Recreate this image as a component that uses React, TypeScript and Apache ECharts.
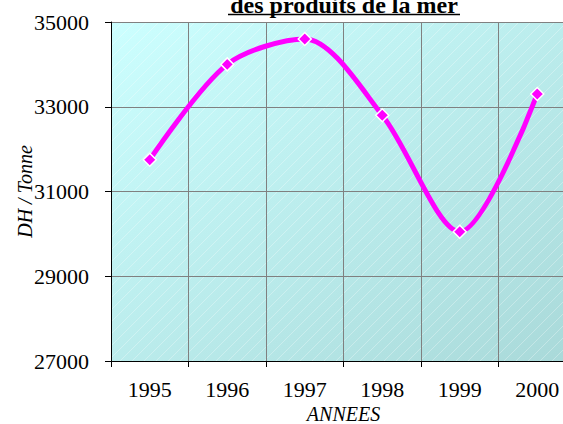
import React, { useEffect, useRef } from 'react';
import * as echarts from 'echarts';

const years: string[] = ['1995', '1996', '1997', '1998', '1999', '2000'];
const prices: number[] = [31750, 34000, 34600, 32800, 30050, 33300];
const yMin = 27000;
const yMax = 35000;
const yInterval = 2000;
const titleText = 'des produits de la mer';
const xName = 'ANNEES';
const yName = 'DH / Tonne';

const FONT = '"Liberation Serif", "Times New Roman", serif';

// plot rectangle (layout)
const L = 111;
const T = 22;
const R = 576;
const B = 361;

function hatchLines() {
  const els: any[] = [];
  const step = 12;
  for (let c = L + T; c <= R + B; c += step) {
    const x1 = Math.max(L, c - B);
    const x2 = Math.min(R, c - T);
    if (x2 <= x1) continue;
    els.push({
      type: 'line',
      silent: true,
      z: -9,
      shape: { x1, y1: c - x1, x2, y2: c - x2 },
      style: { stroke: 'rgba(255,255,255,0.3)', lineWidth: 1 },
    });
  }
  return els;
}

export default function App() {
  const ref = useRef<HTMLDivElement>(null);
  useEffect(() => {
    if (!ref.current) return;
    const chart = echarts.init(ref.current, undefined, { renderer: 'svg' });
    chart.setOption({
      animation: false,
      backgroundColor: '#ffffff',
      grid: {
        left: L,
        top: T,
        width: R - L,
        height: B - T,
        containLabel: false,
        outerBoundsMode: 'none',
      },
      graphic: [
        {
          type: 'rect',
          silent: true,
          z: -10,
          shape: { x: L, y: T, width: R - L, height: B - T },
          style: {
            fill: new echarts.graphic.LinearGradient(0, 0, 1, 1, [
              { offset: 0, color: '#CCFFFF' },
              { offset: 1, color: '#A9D9D9' },
            ]),
          },
        },
        ...hatchLines(),
        {
          type: 'text',
          x: 344,
          y: 5,
          style: {
            text: titleText,
            fontFamily: FONT,
            fontSize: 24,
            fontWeight: 'bold',
            fill: '#000',
            align: 'center',
            verticalAlign: 'middle',
          },
        },
        {
          type: 'line',
          shape: { x1: 228, y1: 14.5, x2: 460, y2: 14.5 },
          style: { stroke: '#000', lineWidth: 1.5 },
        },
      ],
      xAxis: {
        type: 'category',
        data: years,
        boundaryGap: true,
        name: xName,
        nameLocation: 'middle',
        nameGap: 43,
        nameMoveOverlap: false,
        nameTextStyle: { fontFamily: FONT, fontSize: 20, fontStyle: 'italic', color: '#000' },
        axisLine: { show: true, lineStyle: { color: '#000', width: 1 } },
        axisTick: { show: true, length: 6, lineStyle: { color: '#000' } },
        axisLabel: { fontFamily: FONT, fontSize: 22, color: '#000', margin: 17 },
        splitLine: { show: true, lineStyle: { color: '#808080', width: 1 } },
      },
      yAxis: {
        type: 'value',
        min: yMin,
        max: yMax,
        interval: yInterval,
        name: yName,
        nameLocation: 'middle',
        nameGap: 76,
        nameMoveOverlap: false,
        nameTextStyle: { fontFamily: FONT, fontSize: 20, fontStyle: 'italic', color: '#000' },
        axisLine: { show: true, lineStyle: { color: '#000', width: 1 } },
        axisTick: { show: true, length: 6, lineStyle: { color: '#000' } },
        axisLabel: {
          fontFamily: FONT,
          fontSize: 22,
          color: '#000',
          margin: 22,
          formatter: (v: number) => String(v),
        },
        splitLine: { show: true, lineStyle: { color: '#808080', width: 1 } },
      },
      series: [
        {
          type: 'line',
          data: prices,
          smooth: 0.3,
          symbol: 'diamond',
          symbolSize: 13,
          showAllSymbol: true,
          lineStyle: { color: '#FF00FF', width: 5 },
          itemStyle: { color: '#FF00FF', borderColor: '#ffffff', borderWidth: 1.5 },
          clip: false,
        },
      ],
    });
    return () => chart.dispose();
  }, []);
  return (
    <div
      ref={ref}
      style={{ position: 'fixed', left: 0, top: 0, width: 563, height: 424 }}
    />
  );
}
